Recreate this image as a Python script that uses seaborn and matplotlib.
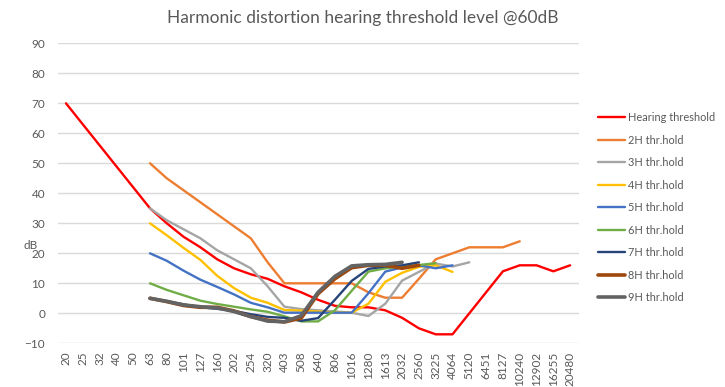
import numpy as np
import pandas as pd
import matplotlib
matplotlib.use('Agg')
import matplotlib.pyplot as plt
import seaborn as sns

freqs = ['20', '25', '32', '40', '50', '63', '80', '101', '127', '160', '202', '254',
         '320', '403', '508', '640', '806', '1016', '1280', '1613', '2032', '2560',
         '3225', '4064', '5120', '6451', '8127', '10240', '12902', '16255', '20480']

nan = np.nan
hearing = [70, 63, 56, 49, 42, 35, 30, 25.5, 22, 18, 15, 13, 11.5, 9, 7, 4.5, 2.5, 2, 2, 1,
           -1.5, -5, -7, -7, 0, 7, 14, 16, 16, 14, 16]
h2 = [nan] * 5 + [50, 45, 41, 37, 33, 29, 25, 17, 10, 10, 10, 10, 10, 7, 5.2, 5.2, 11.5,
                  18, 20, 22, 22, 22, 24, nan, nan, nan]
h3 = [nan] * 5 + [35, 31, 28, 25, 21, 18, 15, 9, 2.2, 1.4, 1, 0.6, 0.2, -0.9, 3.2, 10.9,
                  13.8, 16.6, 15.6, 17] + [nan] * 6
h4 = [nan] * 5 + [30, 26, 21.8, 17.8, 12.5, 8.4, 5.2, 3.5, 1.1, 0.9, 0.6, 0.3, 0.2, 3.2,
                  10.5, 13.5, 15.5, 16, 13.8] + [nan] * 7
h5 = [nan] * 5 + [20, 17.5, 14.2, 11.2, 8.8, 6.3, 3.5, 2, 0.2, 0.2, 0.2, 0.2, 0.2, 6.7,
                  13.9, 15.3, 16, 15, 16] + [nan] * 7
h6 = [nan] * 5 + [10, 7.8, 6, 4.2, 3.1, 2.2, 1.3, 0.5, -1, -2.7, -2.7, 1, 7.5, 13.9, 15,
                  15.6, 16.1, 16.7] + [nan] * 8
h7 = [nan] * 5 + [5, 4, 3, 2, 1.5, 0.8, -0.3, -1.2, -1.5, -2.5, -1.6, 4.5, 10.8, 14.8,
                  15.6, 16, 17] + [nan] * 9
h8 = [nan] * 5 + [5, 3.9, 2.6, 2, 2, 0.8, -1.1, -2.3, -2.9, -1.6, 6.5, 11.5, 15.2, 16,
                  16, 15, 16] + [nan] * 9
h9 = [nan] * 5 + [5, 4, 2.8, 2.2, 1.8, 0.6, -1.1, -2.6, -2.8, -0.8, 7, 12.3, 15.8, 16.2,
                  16.3, 17] + [nan] * 10

names = ['Hearing threshold', '2H thr.hold', '3H thr.hold', '4H thr.hold', '5H thr.hold',
         '6H thr.hold', '7H thr.hold', '8H thr.hold', '9H thr.hold']
values = [hearing, h2, h3, h4, h5, h6, h7, h8, h9]
colors = ['#FF0000', '#ED7D31', '#A5A5A5', '#FFC000', '#4472C4',
          '#70AD47', '#264478', '#9E480E', '#636363']
widths = [1.7, 1.7, 1.7, 1.7, 1.7, 1.7, 1.7, 2.6, 2.6]

sns.set_style('white')
plt.rcParams['font.family'] = ['Lato', 'DejaVu Sans']
text_col = '#595959'

fig = plt.figure(figsize=(7.25, 3.87), dpi=100)
ax = fig.add_axes([0.0794, 0.1129, 0.7186, 0.7752])

for name, vals, col, lw in zip(names, values, colors, widths):
    df = pd.DataFrame({'freq': freqs, 'val': vals}).dropna()
    sns.lineplot(data=df, x='freq', y='val', ax=ax, color=col, linewidth=lw,
                 sort=False, label=name)

ax.set_xlim(-0.5, len(freqs) - 0.5)
ax.set_ylim(-10, 90)
ax.set_yticks(range(-10, 91, 10))
ax.grid(axis='y', color='#D9D9D9', linewidth=1)
ax.grid(axis='x', visible=False)
for s in ax.spines.values():
    s.set_visible(False)
ax.tick_params(axis='both', length=0, colors=text_col, labelsize=8.5)
ax.tick_params(axis='x', rotation=90, pad=6)
ax.tick_params(axis='y', pad=9)
ax.set_xlabel('')
ax.set_ylabel('')

fig.text(24 / 725, 1 - 245 / 387, 'dB', color=text_col, fontsize=8.5, ha='left', va='center')
fig.suptitle('Harmonic distortion hearing threshold level @60dB', x=0.5, y=1 - 18 / 387,
             va='center', fontsize=12.5, color=text_col)

leg = ax.legend(loc='upper left', bbox_to_anchor=(598 / 725, 1 - 112 / 387),
                bbox_transform=fig.transFigure, frameon=False, fontsize=7.9,
                handlelength=2.5, handletextpad=0.2, labelspacing=1.05, borderpad=0,
                borderaxespad=0)
for t in leg.get_texts():
    t.set_color(text_col)

fig.savefig('out.png', dpi=100)
